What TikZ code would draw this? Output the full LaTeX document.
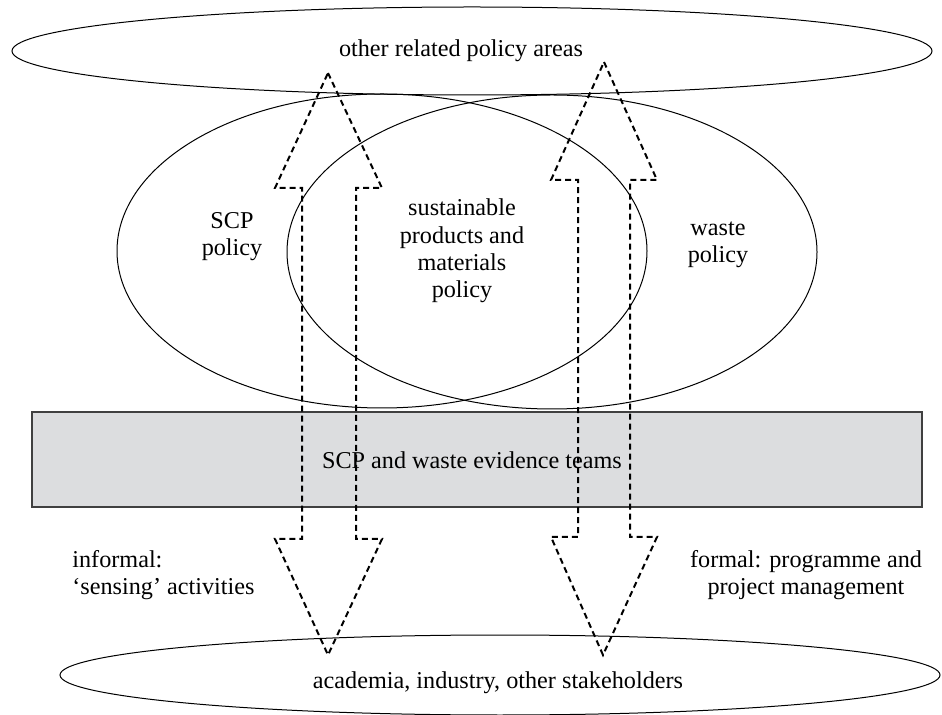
\documentclass[tikz,border=0pt]{standalone}
\usepackage{fontspec}
\setmainfont{Liberation Serif}
\usetikzlibrary{positioning}
\definecolor{teamgray}{RGB}{220,221,223}

\begin{document}
\begin{tikzpicture}[x=0.5pt,y=-0.5pt]
                \tikzstyle{every node}+=[inner sep=0pt, align=center, font=\fontsize{12.1}{13.6}\selectfont]
                \tikzstyle{area}=[black, line width=0.5pt]
                \tikzstyle{flow}=[black, line width=1pt, dash pattern=on 3pt off 2pt]
                \useasboundingbox (0,0) rectangle (942,715);
                \draw [area] (472,51) ellipse (460 and 44);
                \draw (461,51) node (other) {other related policy areas};
                \draw [area] (382,251) ellipse (265 and 157);
                \draw (232,237) node (scp) {SCP\\policy};
                \draw [area] (552,252) ellipse (265 and 157);
                \draw (718,245) node (waste) {waste\\policy};
                \draw (462,251) node (spm) {sustainable\\products and\\materials\\policy};
                \draw [draw=black!75, fill=teamgray, line width=0.6pt] (32,412) rectangle (922,507);
                \draw (472,460) node (teams) {SCP and waste evidence teams};
                \draw [area] (500,675) ellipse (440 and 40);
                \draw (498,683) node (stake) {academia, industry, other stakeholders};
                \draw (72,575) node [anchor=west, align=left] (informal) {informal:\\‘sensing’ activities};
                \draw (806,575) node (formal) {formal: programme and\\project management};
                % two-way dashed arrows
                \draw [flow] (328,73) -- (382,188) -- (356,188) -- (356,539) -- (382,539) -- (328,655)
                    -- (275,539) -- (302,539) -- (302,188) -- (275,188) -- cycle;
                \draw [flow] (604,62) -- (657,180) -- (630,180) -- (630,537) -- (657,537) -- (603,655)
                    -- (551,537) -- (578,537) -- (578,180) -- (551,180) -- cycle;
\end{tikzpicture}
\end{document}
